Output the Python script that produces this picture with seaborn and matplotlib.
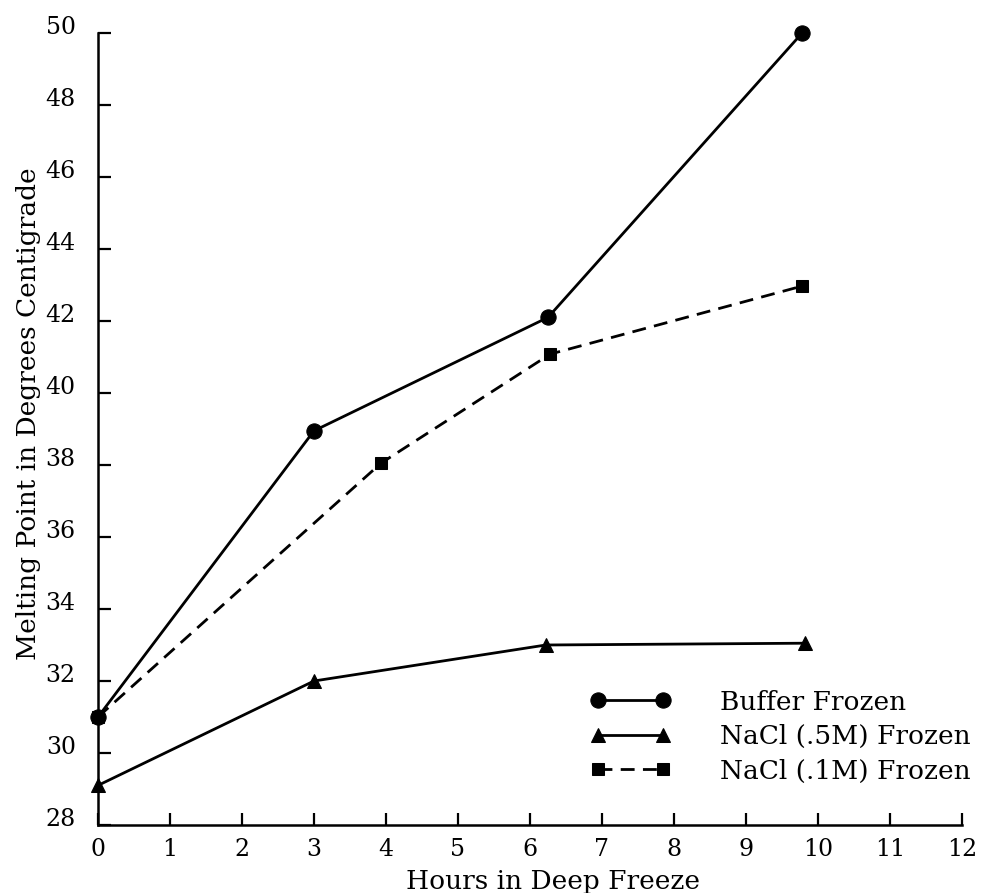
import matplotlib
matplotlib.use("Agg")
import matplotlib.pyplot as plt
import matplotlib.transforms as mtrans
import seaborn as sns
import pandas as pd

# data
hours_buffer = [0, 3.0, 6.25, 9.78]
melt_buffer = [31.0, 38.95, 42.1, 50.0]
hours_nacl05 = [0, 3.0, 6.22, 9.82]
melt_nacl05 = [29.1, 32.0, 33.0, 33.05]
hours_nacl01 = [0, 3.93, 6.28, 9.78]
melt_nacl01 = [31.0, 38.05, 41.08, 42.97]
labels = ["Buffer Frozen", "NaCl (.5M) Frozen", "NaCl (.1M) Frozen"]
xticks = list(range(0, 13))
yticks = list(range(28, 51, 2))

sns.set_theme(style="white")
plt.rcParams['font.family'] = ['DejaVu Serif', 'DejaVu Sans']

fig = plt.figure(figsize=(9.82, 8.93), dpi=100)
ax = fig.add_axes([98/982, 1-825/893, 864/982, 792/893])

series = [
    (hours_buffer, melt_buffer, labels[0], 'o', 11, '-'),
    (hours_nacl05, melt_nacl05, labels[1], '^', 10, '-'),
    (hours_nacl01, melt_nacl01, labels[2], 's', 9, (0, (5, 3))),
]
for xs, ys, lab, mk, ms, ls in series:
    df = pd.DataFrame({"x": xs, "y": ys})
    sns.lineplot(data=df, x="x", y="y", ax=ax, color="black", marker=mk,
                 markersize=ms, markeredgecolor="black", linewidth=2,
                 linestyle=ls, label=lab, sort=False, clip_on=False, zorder=3)

ax.set_xlim(0, 12)
ax.set_ylim(28, 50)
ax.set_xticks(xticks)
ax.set_yticks(yticks)
for s in ["top", "right"]:
    ax.spines[s].set_visible(False)
for s in ["left", "bottom"]:
    ax.spines[s].set_color("black")
    ax.spines[s].set_linewidth(1.8)
ax.tick_params(axis="both", direction="in", length=9, width=1.6, colors="black",
               labelsize=17)
ax.tick_params(axis="y", pad=16, left=True)
ax.tick_params(axis="x", pad=9, bottom=True)
off = mtrans.ScaledTranslation(0, 6/72, fig.dpi_scale_trans)
for lbl in ax.get_yticklabels():
    lbl.set_transform(lbl.get_transform() + off)

ax.set_xlabel("Hours in Deep Freeze", fontsize=19, color="black")
ax.set_ylabel("Melting Point in Degrees Centigrade", fontsize=19, color="black")
ax.xaxis.set_label_coords(0.527, -0.056)
ax.yaxis.set_label_coords(-0.066, 0.519)

handles = ax.get_lines()[:3]
leg = ax.legend(handles, labels, numpoints=2, frameon=False, fontsize=19,
                loc="upper left", bbox_to_anchor=((580-98)/864, (825-679)/792),
                handlelength=3.03, handletextpad=1.86, labelspacing=0.36,
                borderaxespad=0)
for t in leg.get_texts():
    t.set_color("black")

fig.savefig("out.png", dpi=100, facecolor="white")
